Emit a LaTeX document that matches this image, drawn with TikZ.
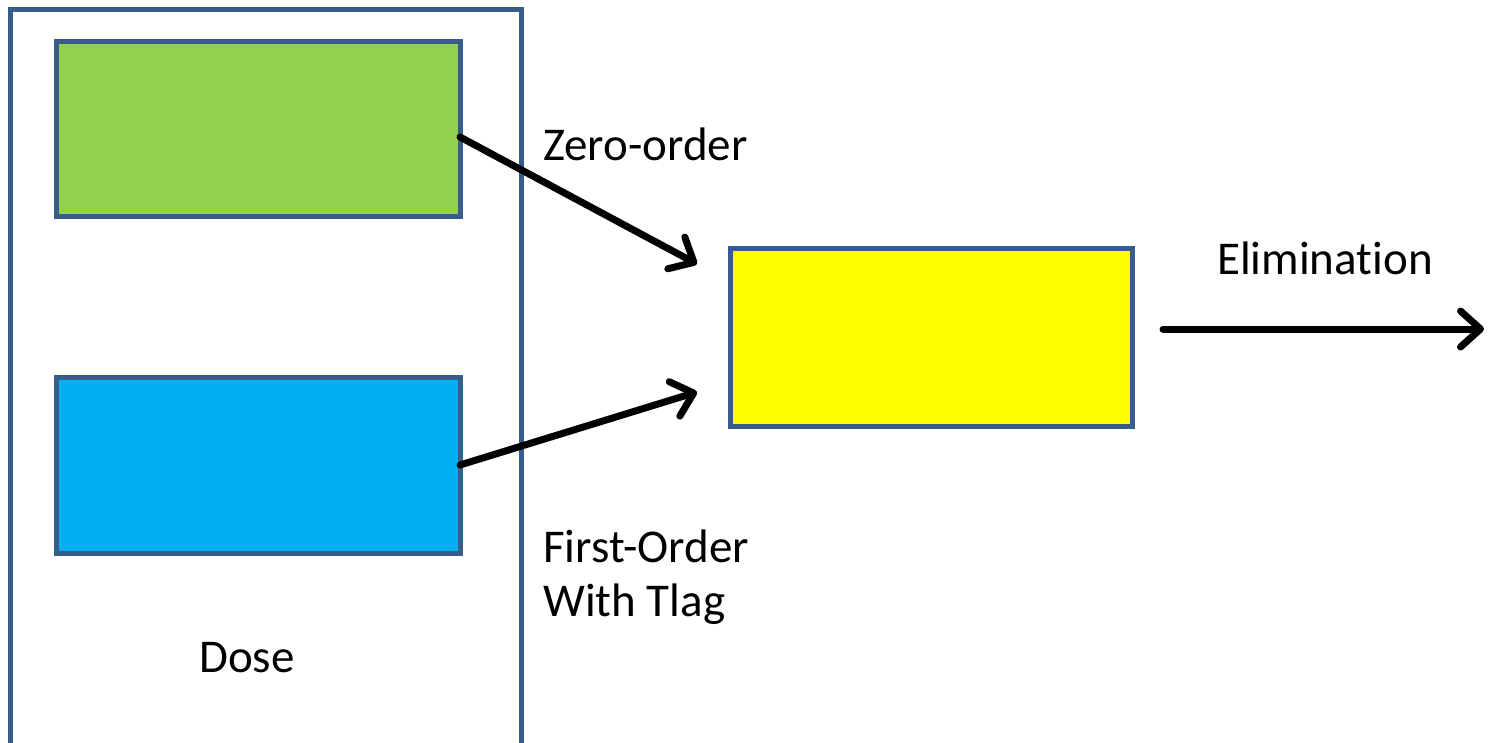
\documentclass[tikz,border=0pt]{standalone}
\usepackage{fontspec}
\setmainfont[Ligatures=NoCommon]{Carlito}
\usetikzlibrary{arrows.meta}
\definecolor{edgeblue}{RGB}{56,93,138}
\definecolor{boxgreen}{RGB}{146,208,80}
\definecolor{boxblue}{RGB}{0,176,240}
\definecolor{boxyellow}{RGB}{255,255,0}
\tikzset{
  compbox/.style={draw=edgeblue, line width=5pt, rectangle, inner sep=0pt},
  lbl/.style={font=\fontsize{47}{54}\selectfont, inner sep=0pt, anchor=base west},
  flow/.style={line width=7pt, line cap=round, -{Straight Barb[length=20pt,width=36pt,round]}}
}
\begin{document}
\begin{tikzpicture}[x=1pt,y=-1pt]
\useasboundingbox (0,0) rectangle (1488,742);
\begin{scope}
\clip (0,0) rectangle (1488,742);
\draw[draw=edgeblue, line width=5pt] (10,760) -- (10,9) -- (521,9) -- (521,760);
\end{scope}
\node[compbox, fill=boxgreen, minimum width=404pt, minimum height=175pt] (green) at (258,128.5) {};
\node[compbox, fill=boxblue, minimum width=404pt, minimum height=176pt] (blue) at (258,465) {};
\node[compbox, fill=boxyellow, minimum width=402pt, minimum height=178pt] (yellow) at (931,337) {};
\coordinate (z0) at (460,137);
\coordinate (z1) at (697,264);
\coordinate (f0) at (460,465);
\coordinate (f1) at (697,392);
\coordinate (e0) at (1163,329);
\coordinate (e1) at (1484,329);
\draw[flow] (z0) -- (z1);
\draw[flow] (f0) -- (f1);
\draw[flow] (e0) -- (e1);
\node[lbl] (zero) at (543,160) {Zero-order};
\node[lbl] (elim) at (1217,274) {Elimination};
\node[lbl] (first) at (543,562) {First-Order};
\node[lbl] (tlag) at (543,616) {With Tlag};
\node[lbl, anchor=base] (dose) at (247,672) {Dose};
\end{tikzpicture}
\end{document}
